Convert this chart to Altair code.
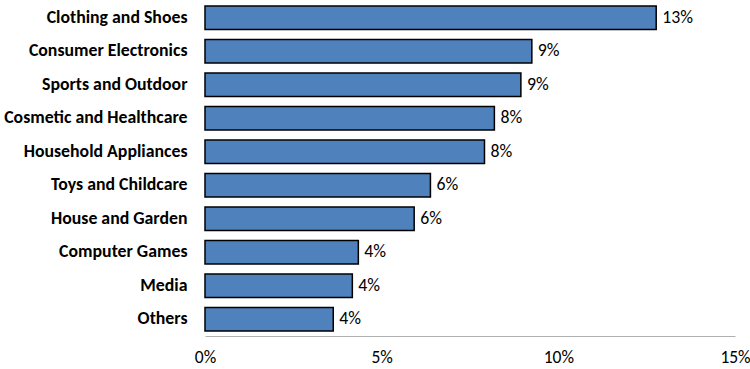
import altair as alt
import pandas as pd

categories = ["Clothing and Shoes", "Consumer Electronics", "Sports and Outdoor",
              "Cosmetic and Healthcare", "Household Appliances", "Toys and Childcare",
              "House and Garden", "Computer Games", "Media", "Others"]
shares = [12.77, 9.25, 8.94, 8.19, 7.91, 6.38, 5.92, 4.34, 4.17, 3.63]
x_ticks = [0, 5, 10, 15]

df = pd.DataFrame({"category": categories, "share": shares})
df["label"] = [f"{round(v)}%" for v in shares]

FONT = "Carlito, Lato, sans-serif"

y_enc = alt.Y("category:N", sort=categories,
              scale=alt.Scale(paddingInner=0.3, paddingOuter=0.15),
              axis=alt.Axis(title=None, domain=False, ticks=False, labelPadding=18,
                            labelFont=FONT, labelFontSize=17.8, labelFontWeight="bold",
                            labelColor="#000000", labelLimit=300))
x_enc = alt.X("share:Q", scale=alt.Scale(domain=[0, 15], nice=False),
              axis=alt.Axis(title=None, values=x_ticks, grid=False, ticks=False,
                            domainColor="#b0b0b0", domainWidth=1, labelFlush=False,
                            labelExpr="datum.value + '%'", labelPadding=12,
                            labelFont=FONT, labelFontSize=17.5, labelColor="#000000"))

bars = alt.Chart(df).mark_bar(color="#4F81BD", stroke="#000000", strokeWidth=1.5).encode(
    x=x_enc, y=y_enc)
text = alt.Chart(df).mark_text(align="left", baseline="middle", dx=6, font=FONT,
                               fontSize=17.8, color="#000000").encode(
    x="share:Q", y=alt.Y("category:N", sort=categories), text="label:N")

chart = (bars + text).properties(
    width=530, height=335,
    autosize=alt.AutoSizeParams(type="none"),
    padding={"left": 205, "top": 1, "right": 15, "bottom": 33},
).configure_view(stroke=None)

chart.save("out.html", embed_options={"renderer": "svg", "actions": False})
